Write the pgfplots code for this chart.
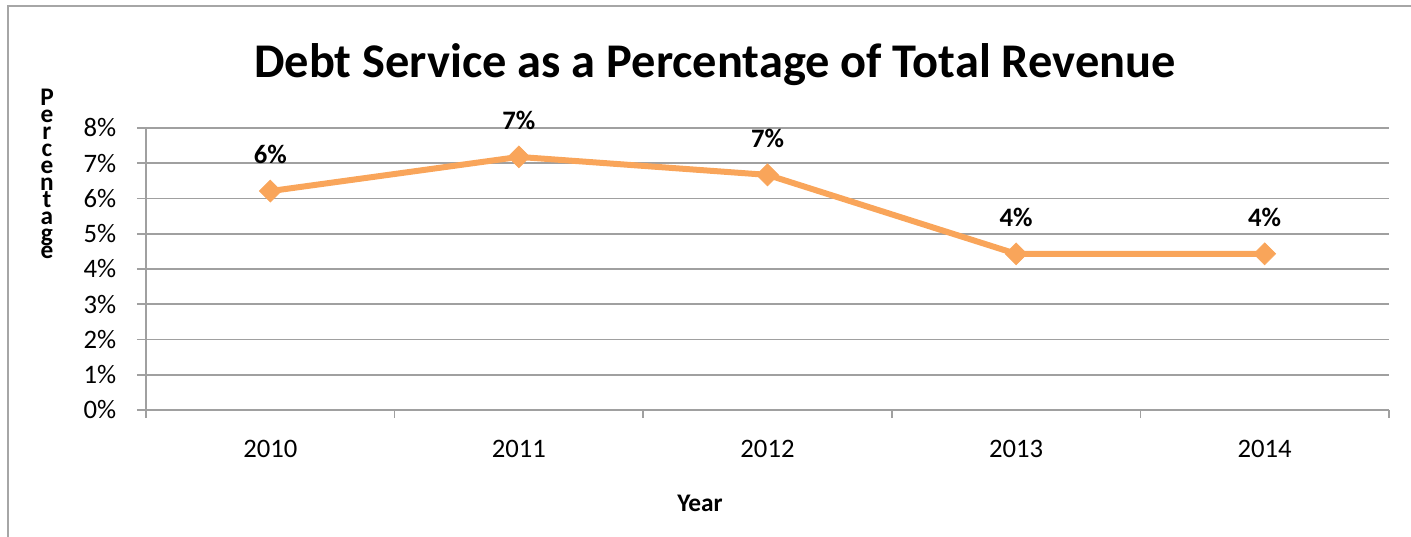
\documentclass[border=0pt]{standalone}
\usepackage{fontspec}
\setmainfont{Carlito}
\usepackage{pgfplots}
\pgfplotsset{compat=1.18}
\definecolor{lineor}{HTML}{F9A55A}
\definecolor{gridg}{HTML}{A0A0A0}
\definecolor{frameg}{HTML}{A6A6A6}
\begin{document}
\begin{tikzpicture}
\useasboundingbox (-109.5pt,-94.5pt) rectangle (948.75pt,307.5pt);
\draw[frameg, line width=1.3pt] (-103.5pt,-95pt) -- (-103.5pt,303pt) -- (949pt,303pt);
\begin{axis}[
  at={(0pt,0pt)}, anchor=south west,
  scale only axis, width=932.25pt, height=211.5pt,
  xmin=-0.5, xmax=4.5, ymin=0, ymax=8,
  axis x line*=bottom, axis y line*=left,
  axis line style={gridg, line width=1.3pt, -},
  xtick={0,1,2,3,4},
  xticklabels={2010,2011,2012,2013,2014},
  major x tick style={draw=none},
  minor xtick={-0.5,0.5,1.5,2.5,3.5,4.5},
  minor tick length=6pt,
  minor x tick style={gridg, line width=1.3pt},
  ytick={0,1,2,3,4,5,6,7,8},
  yticklabels={0\%,1\%,2\%,3\%,4\%,5\%,6\%,7\%,8\%},
  major tick length=6.75pt,
  tick align=outside,
  y tick style={gridg, line width=1.3pt},
  ymajorgrids, grid style={gridg, line width=1.3pt},
  tick label style={font=\fontsize{20}{23}\selectfont, black},
  yticklabel style={anchor=east, xshift=-12pt},
  xticklabel style={anchor=north, yshift=-12pt},
  clip=false,
]
\addplot[lineor, line width=4.5pt, mark=square*, mark size=5.8pt,
  mark options={rotate=45, fill=lineor, draw=lineor, line width=0.5pt},
  point meta=explicit symbolic,
  nodes near coords,
  every node near coord/.style={anchor=center, yshift=27.5pt, font=\fontsize{20}{23}\selectfont\bfseries, black}]
coordinates {
 (0,6.21) [6\%]
 (1,7.18) [7\%]
 (2,6.67) [7\%]
 (3,4.43) [4\%]
 (4,4.43) [4\%]
};
\end{axis}
\node[font=\fontsize{36.3}{40}\selectfont\bfseries] at (426.75pt,258.75pt) {Debt Service as a Percentage of Total Revenue};
\node[font=\fontsize{19}{21}\selectfont\bfseries] at (415.5pt,-69.75pt) {Year};
\node[font=\fontsize{19}{12.8}\selectfont\bfseries, align=center] at (-74.25pt,177pt) {P\\e\\r\\c\\e\\n\\t\\a\\g\\e};
\end{tikzpicture}
\end{document}
